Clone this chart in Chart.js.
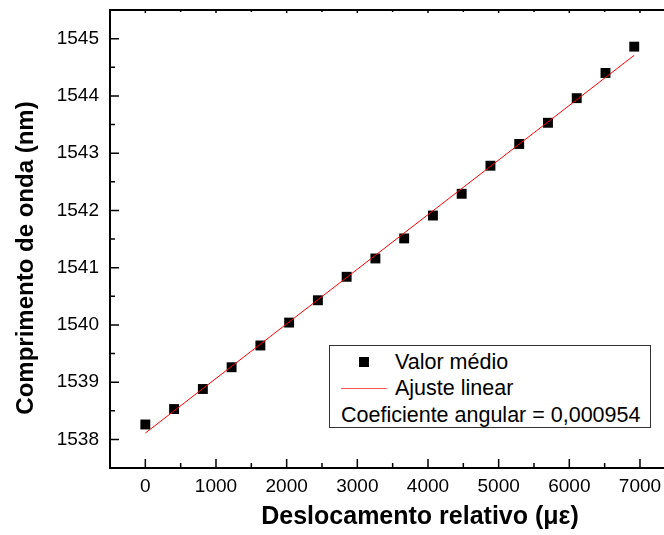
<!DOCTYPE html>
<html>
<head>
<meta charset="utf-8">
<script src="https://cdn.jsdelivr.net/npm/chart.js@4.4.1/dist/chart.umd.min.js"></script>
<style>
  body { margin: 0; background: #fff; overflow: hidden; }
  #wrap { position: relative; width: 664px; height: 535px; overflow: hidden; }
  #legend {
    position: absolute; left: 329px; top: 345px; width: 320px; height: 81px;
    border: 1px solid #333; background: #fff;
    font-family: Arial, "Liberation Sans", sans-serif; font-size: 21.5px; color: #000;
  }
  #legend .row { position: absolute; left: 0; white-space: nowrap; line-height: 26px; }
  #legend .sq { position: absolute; width: 10px; height: 10px; background: #000; }
  #legend .ln { position: absolute; height: 1px; background: #f55; }
</style>
</head>
<body>
<div id="wrap">
  <canvas id="chart" width="664" height="535"></canvas>
  <div id="legend">
    <div class="sq" style="left:29px; top:11px;"></div>
    <div class="row" style="left:65px; top:3px;">Valor médio</div>
    <div class="ln" style="left:11px; width:46px; top:42px;"></div>
    <div class="row" style="left:65px; top:29px;">Ajuste linear</div>
    <div class="row" style="left:11px; top:56px;">Coeficiente angular = 0,000954</div>
  </div>
</div>
<script>
// dados medidos
const deslocamento = [0, 407, 814, 1221, 1628, 2035, 2442, 2849, 3256, 3663, 4070, 4477, 4884, 5291, 5698, 6105, 6512, 6919];
const comprimento = [1538.26, 1538.53, 1538.88, 1539.26, 1539.64, 1540.04, 1540.43, 1540.84, 1541.16,
                     1541.51, 1541.91, 1542.29, 1542.78, 1543.16, 1543.53, 1543.96, 1544.40, 1544.86];

// ajuste linear (extremos da reta)
const ajusteX = [0, 6919];
const ajusteY = [1538.11, 1544.71];

// marcas dos eixos
const xTicks = [0, 1000, 2000, 3000, 4000, 5000, 6000, 7000];
const xMinor = [-500, 500, 1500, 2500, 3500, 4500, 5500, 6500];
const yTicks = [1538, 1539, 1540, 1541, 1542, 1543, 1544, 1545];
const yMinor = [1537.5, 1538.5, 1539.5, 1540.5, 1541.5, 1542.5, 1543.5, 1544.5];

const fontFam = 'Arial, "Liberation Sans", sans-serif';

// ticks para dentro + eixos esquerdo e de cima, como no Origin
const innerTicks = {
  id: 'innerTicks',
  afterLayout(chart) {
    // o grafico original foi cortado: titulos fora do centro da area
    chart.scales.x.right += 66;
    chart.scales.y.bottom += 38;
  },
  afterDatasetsDraw(chart) {
    const ctx = chart.ctx;
    const x = chart.scales.x, y = chart.scales.y;
    const a = chart.chartArea;
    ctx.save();
    ctx.strokeStyle = '#000';
    ctx.lineWidth = 2;
    ctx.beginPath();
    ctx.moveTo(a.right, a.top);
    ctx.lineTo(a.left, a.top);
    ctx.lineTo(a.left, a.bottom + 1);
    ctx.stroke();
    ctx.lineWidth = 1.5;
    ctx.beginPath();
    xTicks.forEach(v => {
      const px = x.getPixelForValue(v);
      ctx.moveTo(px, a.bottom); ctx.lineTo(px, a.bottom - 9);
      ctx.moveTo(px, a.top); ctx.lineTo(px, a.top + 3);
    });
    xMinor.forEach(v => {
      const px = x.getPixelForValue(v);
      ctx.moveTo(px, a.bottom); ctx.lineTo(px, a.bottom - 5);
      ctx.moveTo(px, a.top); ctx.lineTo(px, a.top + 2);
    });
    yTicks.forEach(v => {
      const py = y.getPixelForValue(v);
      ctx.moveTo(a.left, py); ctx.lineTo(a.left + 9, py);
    });
    yMinor.forEach(v => {
      const py = y.getPixelForValue(v);
      ctx.moveTo(a.left, py); ctx.lineTo(a.left + 5, py);
    });
    ctx.stroke();
    ctx.restore();
  }
};

new Chart(document.getElementById('chart'), {
  type: 'scatter',
  data: {
    datasets: [{
      label: 'Ajuste linear',
      data: ajusteX.map((v, i) => ({ x: v, y: ajusteY[i] })),
      showLine: true,
      borderColor: '#ff0000',
      borderWidth: 1,
      pointRadius: 0,
      order: 0
    }, {
      label: 'Valor médio',
      data: deslocamento.map((v, i) => ({ x: v, y: comprimento[i] })),
      pointStyle: 'rect',
      pointRadius: 7,
      pointBackgroundColor: '#000',
      pointBorderColor: '#000',
      pointBorderWidth: 0,
      order: 1
    }]
  },
  options: {
    responsive: false,
    animation: false,
    devicePixelRatio: 1,
    layout: { autoPadding: false, padding: { top: 10, right: 0, left: 0, bottom: 0 } },
    plugins: { legend: { display: false }, tooltip: { enabled: false } },
    scales: {
      x: {
        type: 'linear', position: 'bottom', min: -500, max: 7340,
        afterBuildTicks: s => { s.ticks = xTicks.map(v => ({ value: v })); },
        afterFit: s => { s.height = 67; s.paddingLeft = 0; s.paddingRight = 0; },
        grid: { display: false, drawTicks: false },
        border: { display: true, color: '#000', width: 2 },
        ticks: { color: '#000', padding: 7, font: { family: fontFam, size: 19 }, callback: v => String(v) },
        title: {
          display: true, text: 'Deslocamento relativo (με)', color: '#000',
          padding: { top: 0, bottom: 3 },
          font: { family: fontFam, size: 25, weight: 'bold' }
        }
      },
      y: {
        type: 'linear', min: 1537.5, max: 1545.5,
        afterBuildTicks: s => { s.ticks = yTicks.map(v => ({ value: v })); },
        afterFit: s => { s.width = 110; s.paddingTop = 0; s.paddingBottom = 0; },
        grid: { display: false, drawTicks: false },
        border: { display: false },
        ticks: { color: '#000', padding: 11, font: { family: fontFam, size: 19 }, callback: v => String(v) },
        title: {
          display: true, text: 'Comprimento de onda (nm)', color: '#000',
          padding: { top: 12, bottom: 0 },
          font: { family: fontFam, size: 24, weight: 'bold' }
        }
      }
    }
  },
  plugins: [innerTicks]
});
</script>
</body>
</html>
